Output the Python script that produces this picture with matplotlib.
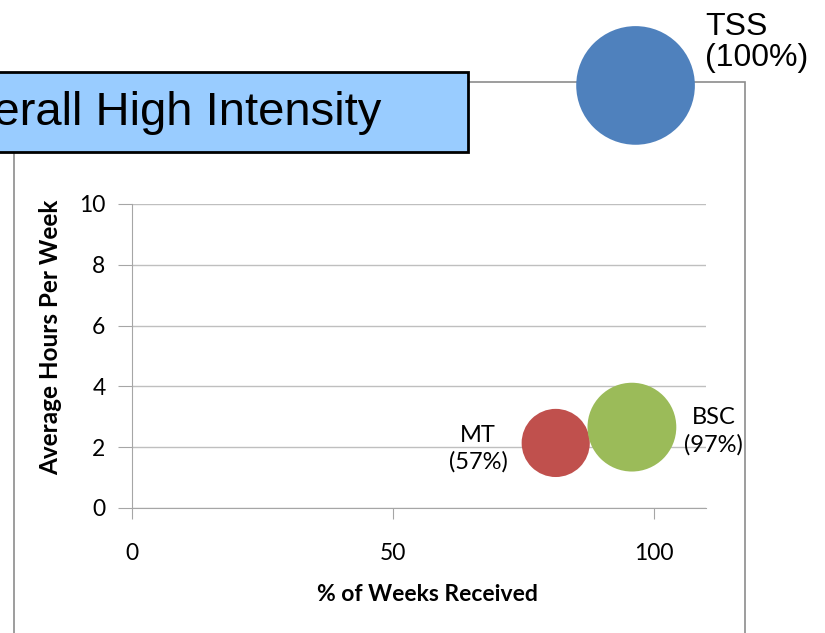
import matplotlib.pyplot as plt
import matplotlib.patches as patches

# data
groups = ['TSS', 'MT', 'BSC']
pct_weeks = [96.5, 81.2, 95.8]
avg_hours = [13.9, 2.14, 2.66]
bubble_size = [100, 33, 56]
pct_labels = ['(100%)', '(57%)', '(97%)']
colors = ['#4F81BD', '#C0504D', '#9BBB59']

x_ticks = [0, 50, 100]
y_ticks = [0, 2, 4, 6, 8, 10]

W, H = 825, 633
fig = plt.figure(figsize=(W / 100, H / 100), dpi=100)

def fx(px):
    return px / W

def fy(py):
    return 1 - py / H

# chart area frame (grey), runs off the bottom
frame = patches.Rectangle((fx(14), -0.1), fx(745) - fx(14), fy(82) + 0.1,
                          transform=fig.transFigure, fill=False,
                          edgecolor='#8C8C8C', lw=1.2, zorder=-1)
fig.patches.append(frame)

ax = fig.add_axes([fx(132), fy(508), fx(706) - fx(132), fy(204) - fy(508)])
ax.set_facecolor('none')
ax.set_xlim(0, 110)
ax.set_ylim(0, 10)
ax.set_xticks(x_ticks)
ax.set_yticks(y_ticks)

tick_font = dict(family='Lato', size=16.5)
ax.set_xticklabels([str(v) for v in x_ticks], **tick_font)
ax.set_yticklabels([str(v) for v in y_ticks], **tick_font)
ax.tick_params(axis='x', direction='out', length=8, color='#A6A6A6', pad=17)
ax.tick_params(axis='y', direction='out', length=10, color='#A6A6A6', pad=9)

for s in ['top', 'right']:
    ax.spines[s].set_visible(False)
for s in ['left', 'bottom']:
    ax.spines[s].set_color('#A6A6A6')
ax.yaxis.grid(True, color='#BFBFBF', lw=1)
ax.set_axisbelow(True)

ax.set_xlabel('% of Weeks Received', family='Lato', size=16.5, weight='bold', labelpad=17)
ax.xaxis.set_label_coords(0.514, -0.25)
ax.set_ylabel('Average Hours Per Week', family='Lato', size=17.5, weight='bold', labelpad=12)
ax.yaxis.label.set_y(0.5625)

sizes = [b / 100 * 7300 for b in bubble_size]
ax.scatter(pct_weeks, avg_hours, s=sizes, c=colors, edgecolors='none',
           clip_on=False, zorder=3)

# bubble labels
ax.annotate(groups[0] + '\n' + pct_labels[0], (pct_weeks[0], avg_hours[0]),
            xytext=(50, 31), textcoords='offset points', ha='left', va='center',
            family='Liberation Sans', size=23, linespacing=1.05,
            annotation_clip=False)
ax.annotate(groups[1] + '\n' + pct_labels[1], (pct_weeks[1], avg_hours[1]),
            xytext=(-56, -4), textcoords='offset points', ha='center', va='center',
            family='Lato', size=17, linespacing=1.3, annotation_clip=False)
ax.annotate(groups[2] + '\n' + pct_labels[2], (pct_weeks[2], avg_hours[2]),
            xytext=(59, -3), textcoords='offset points', ha='center', va='center',
            family='Lato', size=17, linespacing=1.3, annotation_clip=False)

# title box, cut off at the left edge as in the original slide
box = patches.Rectangle((-0.02, fy(152)), fx(468) + 0.02, fy(72) - fy(152),
                        transform=fig.transFigure, facecolor='#99CCFF',
                        edgecolor='black', lw=2, zorder=1)
fig.patches.append(box)
fig.text(fx(381), fy(113), 'Overall High Intensity', ha='right', va='center',
         family='Liberation Sans', size=34, zorder=2)

fig.savefig('out.png', dpi=100)
